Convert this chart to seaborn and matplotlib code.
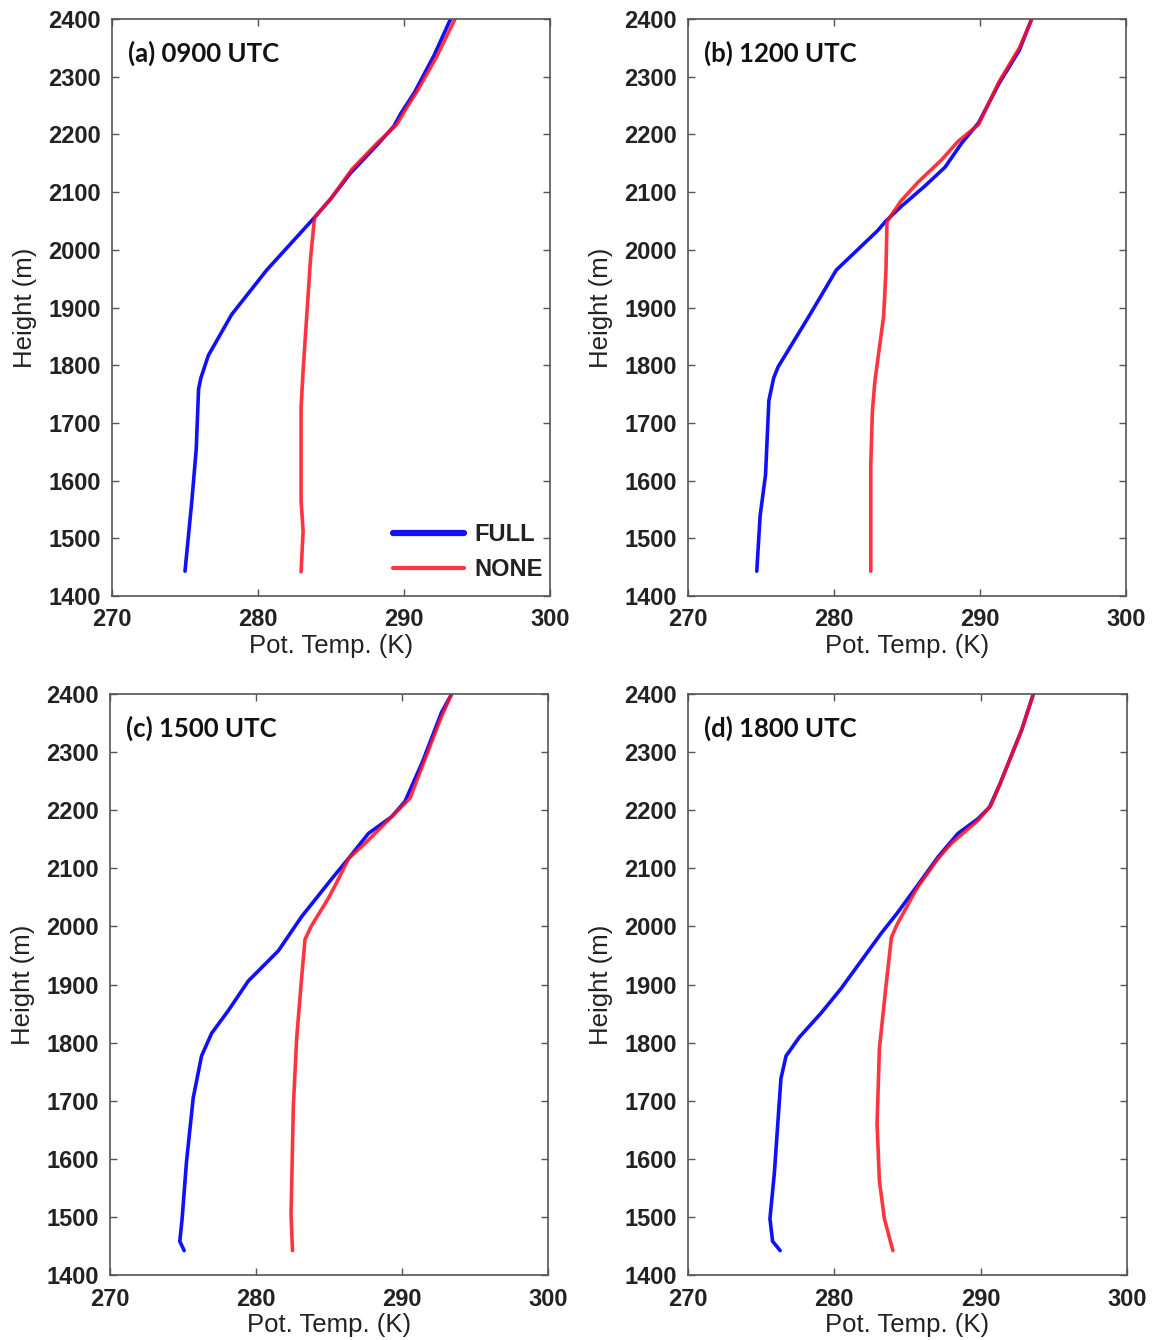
import numpy as np
import pandas as pd
import matplotlib
matplotlib.use("Agg")
import matplotlib.pyplot as plt
import seaborn as sns

# ---------------- data ----------------
panel_titles = ["(a) 0900 UTC", "(b) 1200 UTC", "(c) 1500 UTC", "(d) 1800 UTC"]
series_names = ["FULL", "NONE"]

# (a) 0900 UTC
a_full_T = [275.0, 275.47, 275.77, 275.93, 276.09, 276.6, 278.2, 280.6, 283.87, 284.97, 286.34, 288.17, 289.3, 289.8, 290.7, 292.06, 293.1, 293.2]
a_full_H = [1443, 1565, 1655, 1759, 1778, 1817, 1888, 1965, 2056, 2088, 2133, 2182, 2214, 2237, 2272, 2337, 2395, 2400]
a_none_T = [282.95, 283.09, 282.95, 282.95, 283.09, 283.6, 283.87, 284.97, 286.45, 288.17, 289.5, 290.1, 290.9, 292.2, 293.4, 293.5]
a_none_H = [1442, 1513, 1565, 1726, 1791, 1985, 2056, 2088, 2140, 2185, 2217, 2243, 2275, 2333, 2395, 2400]

# (b) 1200 UTC
b_full_T = [274.71, 274.94, 275.31, 275.54, 275.87, 276.17, 278.36, 280.16, 282.98, 283.56, 284.6, 286.2, 287.6, 288.75, 289.9, 291.3, 292.7, 293.5]
b_full_H = [1443, 1539, 1610, 1739, 1778, 1797, 1888, 1965, 2033, 2050, 2075, 2110, 2143, 2185, 2220, 2288, 2346, 2398]
b_none_T = [282.52, 282.52, 282.63, 282.8, 283.4, 283.56, 283.63, 284.6, 285.75, 287.37, 288.5, 289.9, 291.3, 292.7, 293.56]
b_none_H = [1443, 1629, 1720, 1772, 1885, 1965, 2049, 2085, 2117, 2156, 2188, 2217, 2291, 2350, 2400]

# (c) 1500 UTC
c_full_T = [275.08, 274.78, 274.94, 275.24, 275.7, 276.27, 276.96, 278.1, 279.47, 281.53, 283.13, 285.19, 286.34, 287.7, 289.3, 290.2, 291.4, 292.7, 293.4]
c_full_H = [1442, 1458, 1497, 1595, 1705, 1777, 1816, 1855, 1906, 1958, 2017, 2082, 2117, 2160, 2189, 2215, 2283, 2368, 2400]
c_none_T = [282.5, 282.4, 282.56, 282.79, 283.13, 283.36, 283.8, 284.97, 285.66, 286.34, 287.48, 289.3, 290.56, 291.5, 292.7, 293.4]
c_none_H = [1442, 1504, 1692, 1809, 1913, 1978, 2001, 2049, 2082, 2117, 2143, 2189, 2221, 2283, 2361, 2400]

# (d) 1800 UTC
d_full_T = [276.3, 275.78, 275.6, 275.9, 276.35, 276.7, 277.6, 279.1, 280.46, 283.2, 284.3, 285.7, 287.1, 288.45, 289.8, 290.6, 291.3, 292.8, 293.6]
d_full_H = [1442, 1458, 1497, 1575, 1738, 1777, 1809, 1851, 1893, 1988, 2023, 2071, 2120, 2160, 2185, 2205, 2244, 2338, 2400]
d_none_T = [284.0, 283.42, 283.08, 282.92, 283.08, 283.54, 283.9, 284.3, 285.7, 287.1, 288.0, 289.8, 290.7, 291.3, 292.8, 293.6]
d_none_H = [1442, 1497, 1562, 1660, 1790, 1900, 1981, 2004, 2068, 2117, 2143, 2182, 2208, 2244, 2338, 2400]

x_ticks = [270, 280, 290, 300]
y_ticks = [1400, 1500, 1600, 1700, 1800, 1900, 2000, 2100, 2200, 2300, 2400]

panels = [
    (a_full_T, a_full_H, a_none_T, a_none_H),
    (b_full_T, b_full_H, b_none_T, b_none_H),
    (c_full_T, c_full_H, c_none_T, c_none_H),
    (d_full_T, d_full_H, d_none_T, d_none_H),
]

# ---------------- styling ----------------
sns.set_theme(style="white")
plt.rcParams["font.family"] = ["Liberation Sans", "DejaVu Sans"]

W, H = 1156, 1340
fig = plt.figure(figsize=(W / 100, H / 100), dpi=100)

boxes = [  # left, top, right, bottom in pixels
    (112, 19, 550, 596),
    (688, 19, 1126, 596),
    (110, 694, 548, 1275),
    (688, 694, 1127, 1275),
]

colors = {"FULL": "#1010ff", "NONE": "#ff1020"}

for i, ((ft, fh, nt, nh), (l, t, r, b)) in enumerate(zip(panels, boxes)):
    ax = fig.add_axes([l / W, 1 - b / H, (r - l) / W, (b - t) / H])
    sns.lineplot(x=ft, y=fh, sort=False, estimator=None, ax=ax,
                 color=colors["FULL"], lw=2.6, label="FULL" if i == 0 else None)
    sns.lineplot(x=nt, y=nh, sort=False, estimator=None, ax=ax,
                 color=colors["NONE"], lw=2.6, alpha=0.85, label="NONE" if i == 0 else None)
    ax.set_xlim(270, 300)
    ax.set_ylim(1400, 2400)
    ax.set_xticks(x_ticks)
    ax.set_yticks(y_ticks)
    ax.tick_params(direction="in", length=5, width=1, color="#555555",
                   top=True, right=True, bottom=True, left=True,
                   labelsize=17)
    ax.tick_params(axis="y", pad=8)
    ax.tick_params(axis="x", pad=9)
    for lab in ax.get_xticklabels() + ax.get_yticklabels():
        lab.set_fontweight("bold")
        lab.set_color("#222222")
    for s in ax.spines.values():
        s.set_color("#555555")
        s.set_linewidth(1.2)
        s.set_visible(True)
    ax.set_xlabel("Pot. Temp. (K)", fontsize=18.5, color="#222222")
    ax.set_ylabel("Height (m)", fontsize=18.5, color="#222222")
    ax.xaxis.label.set_va("center")
    ax.yaxis.label.set_va("center")
    ax.xaxis.set_label_coords(0.5, -50 / (b - t))
    ax.yaxis.set_label_coords(-87 / (r - l), 0.5)
    ax.text(0.037, 0.963, panel_titles[i], transform=ax.transAxes,
            fontsize=18.5, fontweight="bold", family=["Lato", "DejaVu Sans"],
            ha="left", va="top", color="#111111")
    if i == 0:
        leg = ax.legend(loc="lower right", frameon=False,
                        prop={"size": 17, "weight": "bold"},
                        handlelength=3.0, handletextpad=0.45, labelspacing=0.5,
                        borderaxespad=0.0, bbox_to_anchor=(1.005, 0.01))
        lines = leg.get_lines()
        lines[0].set_linewidth(4.5)
        lines[1].set_linewidth(3)
        for txt in leg.get_texts():
            txt.set_color("#222222")
    else:
        lg = ax.get_legend()
        if lg is not None:
            lg.remove()

fig.savefig("out.png", dpi=100)
